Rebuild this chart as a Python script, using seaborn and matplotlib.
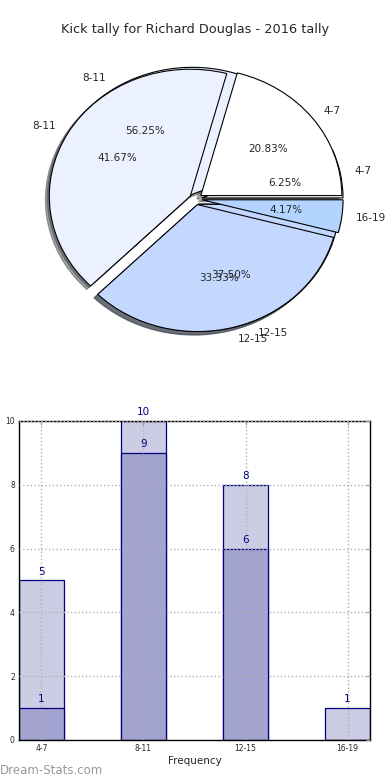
import matplotlib
matplotlib.use('Agg')
import matplotlib.pyplot as plt
import pandas as pd
import seaborn as sns

# kick ranges and the two tallies (bar chart: light = all, dark = subset)
ranges = ['4-7', '8-11', '12-15', '16-19']
tally_all = [5, 10, 8, 1]
tally_sub = [1, 9, 6, 0]

pie_colors = ['#FFFFFF', '#EBF1FF', '#C4D8FF', '#B3D4FF']
light_bar = '#CCCCE5'
dark_bar = '#A3A3D0'
navy = '#000080'

sns.set_style('white')
plt.rcParams['font.family'] = ['DejaVu Sans']

fig = plt.figure(figsize=(3.9, 7.8), dpi=100)

# ---- pie: two overlaid pies ----
ax_pie = fig.add_axes([0.0501, 0.5413, 0.9038, 0.407])
sub_idx = [i for i, v in enumerate(tally_sub) if v > 0]
wedge_kw = {'edgecolor': 'black', 'linewidth': 0.8}
ax_pie.pie([tally_sub[i] for i in sub_idx],
           labels=[ranges[i] for i in sub_idx],
           colors=[pie_colors[i] for i in sub_idx],
           explode=[0.045] * len(sub_idx), autopct='%.2f%%', shadow=True,
           wedgeprops=wedge_kw, textprops={'fontsize': 7.5})
ax_pie.pie(tally_all, labels=ranges, colors=pie_colors,
           explode=[0.045] * len(tally_all), autopct='%.2f%%', shadow=True,
           wedgeprops=wedge_kw, textprops={'fontsize': 7.5})
ax_pie.set_aspect('auto')
ax_pie.set_xlim(-1.25, 1.25)
ax_pie.set_ylim(-1.25, 1.25)

fig.text(0.5, 1 - 30 / 780, 'Kick tally for Richard Douglas - 2016 tally',
         ha='center', va='center', fontsize=9.3)

# ---- bars ----
ax = fig.add_axes([0.0487, 0.0513, 0.9, 0.409])
df = pd.DataFrame({'range': ranges, 'all': tally_all, 'sub': tally_sub})
sns.barplot(data=df, x='range', y='all', color=light_bar, saturation=1,
            width=0.44, edgecolor=navy, linewidth=0.9, ax=ax)
sns.barplot(data=df, x='range', y='sub', color=dark_bar, saturation=1,
            width=0.44, edgecolor=navy, linewidth=0.9, ax=ax)

for i, (a, s) in enumerate(zip(tally_all, tally_sub)):
    ax.text(i, a + 0.12, str(a), ha='center', va='bottom', color=navy, fontsize=7.5)
    if s > 0:
        ax.text(i, s + 0.12, str(s), ha='center', va='bottom', color=navy, fontsize=7.5)

ax.set_xlim(-0.22, 3.22)
ax.set_ylim(0, 10)
ax.set_yticks(range(0, 11, 2))
ax.set_xlabel('Frequency', fontsize=7.5, labelpad=2)
ax.set_ylabel('Number of Kicks', fontsize=7, labelpad=6)
ax.tick_params(direction='in', top=True, right=True, length=3,
               color='#999999', labelsize=5.5, pad=3)
ax.grid(True, linestyle=':', color='#b0b0b0', linewidth=1)
ax.set_axisbelow(False)
for sp in ax.spines.values():
    sp.set_color('black')
    sp.set_linewidth(1)

fig.text(0.0, 1 - 770 / 780, 'Dream-Stats.com', color='#999999',
         fontsize=8.5, ha='left', va='center')

fig.savefig('out.png', dpi=100)
